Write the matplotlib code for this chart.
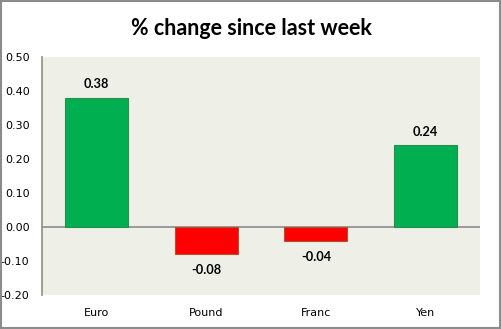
from matplotlib import pyplot as plt
from matplotlib.patches import Rectangle

# weekly % change per currency
currencies = ['Euro', 'Pound', 'Franc', 'Yen']
changes = [0.38, -0.08, -0.04, 0.24]
y_ticks = [-0.20, -0.10, 0.00, 0.10, 0.20, 0.30, 0.40, 0.50]


def plot_changes():
    fig = plt.figure(figsize=(5.02, 3.29), dpi=100)
    fig.patch.set_facecolor('white')
    # grey frame around the whole chart
    fig.patches.append(Rectangle((0.002, 0.003), 0.994, 0.994, transform=fig.transFigure,
                                 fill=False, edgecolor='#8c8c8c', linewidth=1.5))

    ax = fig.add_axes([0.0837, 0.1033, 0.873, 0.7234])
    ax.set_facecolor('#eef0e7')

    colors = ['#00b050' if v >= 0 else '#ff0000' for v in changes]
    edges = ['#2e8b4f' if v >= 0 else '#b5502f' for v in changes]
    x = range(len(currencies))
    ax.bar(x, changes, width=0.575, color=colors, edgecolor=edges, linewidth=0.8, zorder=3)

    # value labels
    for i, v in enumerate(changes):
        off = 0.022 if v >= 0 else -0.03
        ax.text(i, v + off, '%.2f' % v, ha='center', va='bottom' if v >= 0 else 'top',
                fontsize=9.2, fontweight='bold', family='Lato', color='black')

    ax.axhline(0, color='#8c8c8c', linewidth=1.2, zorder=2)
    ax.set_xlim(-0.5, len(currencies) - 0.5)
    ax.set_ylim(-0.20, 0.50)
    ax.set_yticks(y_ticks)
    ax.set_yticklabels(['%.2f' % t for t in y_ticks])
    ax.set_xticks(list(x))
    ax.set_xticklabels(currencies)
    ax.tick_params(axis='both', length=0, labelsize=8, colors='black')
    ax.tick_params(axis='x', pad=9)
    ax.tick_params(axis='y', pad=9)

    for side in ['top', 'right', 'bottom']:
        ax.spines[side].set_visible(False)
    ax.spines['left'].set_color('#8c8c8c')
    ax.spines['left'].set_linewidth(1.2)

    fig.text(0.5, 0.914, '% change since last week', ha='center', va='center',
             fontsize=15.5, fontweight='bold', family='Lato')

    fig.savefig('out.png', dpi=100)


if __name__ == '__main__':
    plot_changes()
